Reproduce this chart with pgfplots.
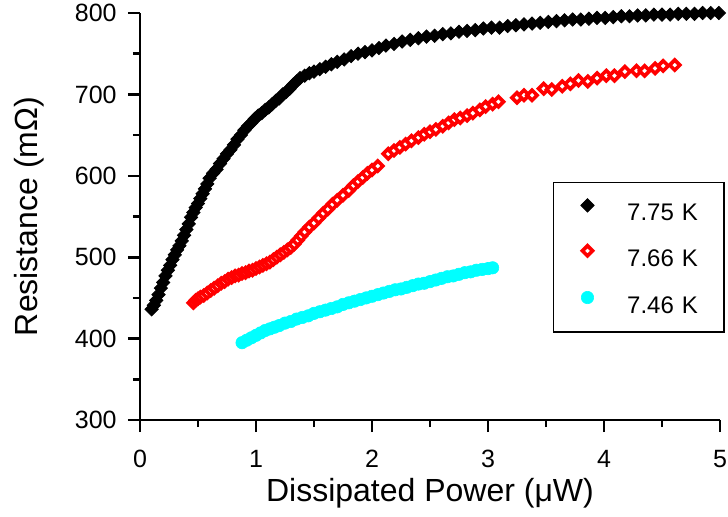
\documentclass[border=0pt]{standalone}
\usepackage{fontspec}
\setmainfont{Liberation Sans}
\usepackage{pgfplots}
\pgfplotsset{compat=1.18}

\definecolor{aqua}{RGB}{0,255,255}

\begin{document}
\begin{tikzpicture}
\useasboundingbox (-70pt,-48pt) rectangle (294pt,210pt);
\begin{axis}[
  scale only axis, width=290pt, height=203.5pt,
  xmin=0, xmax=5, ymin=300, ymax=800,
  enlargelimits=false, clip=false,
  axis lines=left, axis line style={-, line width=1.3pt},
  xtick={0,1,2,3,4,5}, ytick={300,400,500,600,700,800},
  minor x tick num=1, minor y tick num=1,
  tick align=outside, major tick length=6pt, minor tick length=3.5pt,
  every tick/.style={black, line width=1.3pt},
  /pgf/number format/assume math mode=true,
  tick label style={font=\fontsize{12.5}{15}\selectfont},
  xticklabel style={inner sep=0pt, anchor=north, yshift=-9pt},
  yticklabel style={inner sep=0pt, anchor=east, xshift=-5.5pt},
  every axis x label/.style={at={([yshift=-40.5pt]axis description cs:0.5,0)}, anchor=base},
  every axis y label/.style={at={([xshift=-51pt]axis description cs:0,0.5)}, rotate=90, anchor=base},
  label style={font=\fontsize{16}{19}\selectfont},
  xlabel={Dissipated Power (μW)},
  ylabel={Resistance (mΩ)},
  legend style={at={(axis description cs:1.0086,0.5848)}, anchor=north east,
    draw=black, line width=0.75pt, inner xsep=6.5pt, inner ysep=8pt,
    row sep=11pt, column sep=9.5pt,
    font=\fontsize{12}{14}\selectfont,
    nodes={inner sep=0pt, text width=42pt, align=left}},
  legend image code/.code={\draw[#1] plot coordinates {(0pt,4.3pt)}; \path (-10pt,0pt) (10pt,0pt);},
]
% 7.75 K
\addplot[only marks, mark=square*, mark size=2.35pt,
  mark options={rotate=45, fill=black, draw=black, line width=0.4pt}] coordinates {
(0.10,436)(0.12,441)(0.14,447)(0.16,454)(0.18,462)(0.20,469)(0.22,477)(0.24,484)
(0.26,490)(0.28,497)(0.30,503)(0.32,509)(0.34,514)(0.36,520)(0.38,527)(0.40,534)
(0.42,541)(0.44,549)(0.46,555)(0.48,561)(0.50,566)(0.52,572)(0.54,578)(0.56,584)
(0.58,590)(0.60,597)(0.63,603)(0.66,608)(0.69,615)(0.72,621)(0.75,627)(0.78,632)
(0.81,638)(0.84,645)(0.87,650)(0.90,656)(0.93,661)(0.96,665)(0.99,670)(1.02,674)
(1.05,677)(1.08,681)(1.11,684)(1.14,688)(1.17,692)(1.20,695)(1.23,700)(1.26,703)
(1.29,707)(1.32,712)(1.35,716)(1.38,720)(1.42,723)(1.46,726)(1.50,728)(1.55,731)
(1.60,734)(1.65,737)(1.70,740)(1.76,743)(1.82,747)(1.88,750)(1.94,752)(2.00,754)
(2.06,757)(2.12,760)(2.19,762)(2.26,765)(2.33,767)(2.40,769)(2.47,771)(2.54,772)
(2.61,774)(2.68,775)(2.75,777)(2.82,778)(2.89,779)(2.96,781)(3.03,782)(3.10,782)
(3.17,784)(3.24,785)(3.31,786)(3.38,787)(3.45,788)(3.52,789)(3.59,790)(3.66,791)
(3.73,792)(3.80,792)(3.87,793)(3.94,794)(4.01,794)(4.08,795)(4.15,796)(4.22,796)
(4.29,797)(4.36,797)(4.43,798)(4.50,798)(4.57,798)(4.64,799)(4.71,799)(4.78,799)
(4.85,800)(4.92,800)(4.99,800)
};
\addlegendentry{7.75 K}
% 7.66 K
\addplot[only marks, mark=square*, mark size=1.8pt,
  mark options={rotate=45, fill=white, draw=red, line width=1.8pt}] coordinates {
(0.46,444)(0.48,447)(0.50,449)(0.52,451)(0.55,453)(0.58,456)(0.61,459)(0.64,462)
(0.67,465)(0.70,468)(0.73,470)(0.76,473)(0.79,475)(0.82,477)(0.85,478)(0.88,480)
(0.91,481)(0.94,483)(0.97,484)(1.00,486)(1.03,488)(1.06,490)(1.09,492)(1.12,494)
(1.15,497)(1.18,500)(1.21,503)(1.24,506)(1.27,509)(1.30,512)(1.33,516)(1.36,521)
(1.39,526)(1.42,531)(1.46,537)(1.50,542)(1.54,548)(1.58,554)(1.62,559)(1.66,565)
(1.70,570)(1.75,576)(1.80,582)(1.84,588)(1.88,593)(1.92,598)(1.96,603)(2.00,607)
(2.05,612)(2.14,627)(2.19,631)(2.24,635)(2.29,639)(2.34,643)(2.40,647)(2.45,651)
(2.50,654)(2.55,657)(2.61,661)(2.66,665)(2.71,669)(2.76,671)(2.82,674)(2.87,677)
(2.93,681)(2.98,685)(3.04,688)(3.09,691)
(3.25,696)(3.31,699)(3.38,699)(3.48,707)(3.55,706)(3.64,710)(3.71,713)(3.78,717)
(3.86,716)(3.94,720)(4.02,723)(4.09,723)(4.18,728)(4.28,729)(4.35,729)(4.44,732)
(4.51,735)(4.61,736)
};
\addlegendentry{7.66 K}
% 7.46 K
\addplot[only marks, mark=*, mark size=3.1pt,
  mark options={fill=aqua, draw=aqua, line width=0.3pt}] coordinates {
(0.88,395)(0.92,398)(0.96,401)(1.00,404)(1.04,407)(1.08,410)(1.12,412)(1.16,414)
(1.20,416)(1.25,419)(1.30,421)(1.35,424)(1.40,426)(1.45,428)(1.50,431)(1.55,433)
(1.60,435)(1.65,437)(1.70,439)(1.75,442)(1.80,444)(1.85,446)(1.90,448)(1.95,450)
(2.00,452)(2.05,454)(2.10,456)(2.15,458)(2.20,460)(2.25,461)(2.30,463)(2.35,465)
(2.40,467)(2.45,468)(2.50,470)(2.55,472)(2.60,474)(2.65,476)(2.70,477)(2.75,479)
(2.80,481)(2.85,482)(2.90,484)(2.95,485)(3.00,486)(3.04,487)
};
\addlegendentry{7.46 K}
\end{axis}
\end{tikzpicture}
\end{document}
